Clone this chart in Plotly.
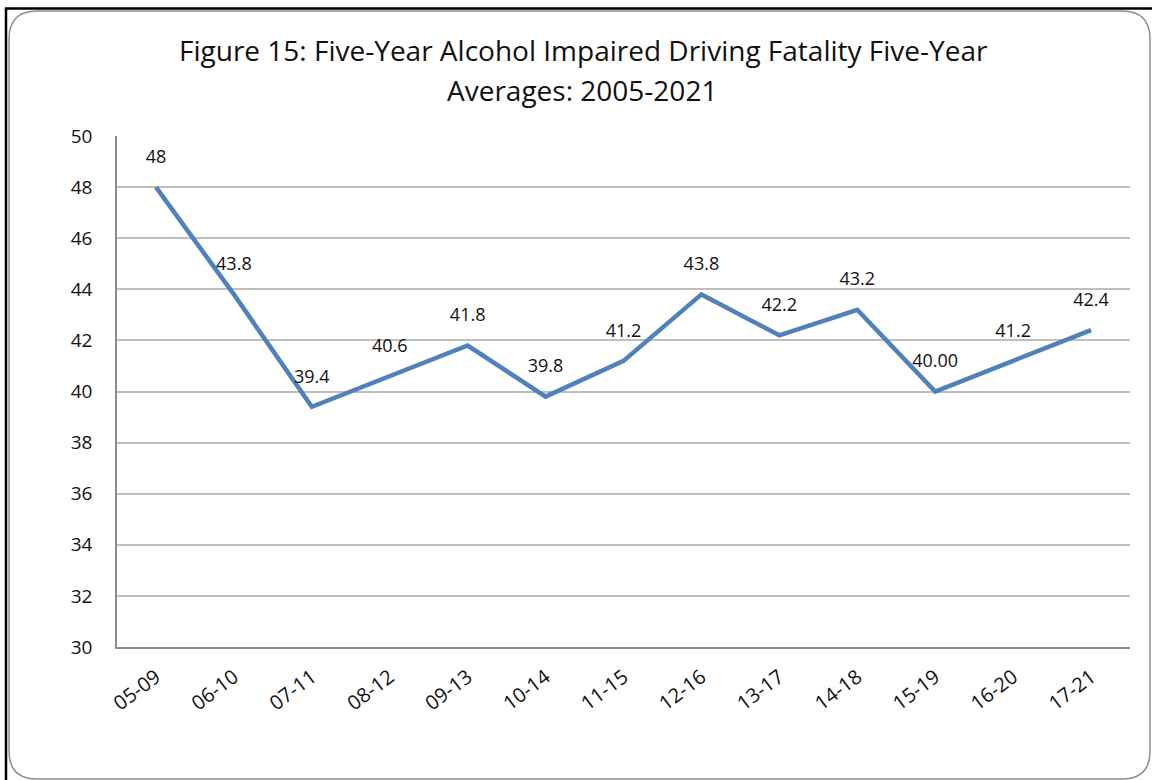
import plotly.graph_objects as go

periods = ["05-09", "06-10", "07-11", "08-12", "09-13", "10-14", "11-15",
           "12-16", "13-17", "14-18", "15-19", "16-20", "17-21"]
averages = [48, 43.8, 39.4, 40.6, 41.8, 39.8, 41.2, 43.8, 42.2, 43.2, 40.0, 41.2, 42.4]
labels = ["48", "43.8", "39.4", "40.6", "41.8", "39.8", "41.2", "43.8", "42.2",
          "43.2", "40.00", "41.2", "42.4"]

W, H = 1152, 780
ML, MR, MT, MB = 117, 22, 136, 133
PW, PH = W - ML - MR, H - MT - MB


def px_x(v):
    return (v - ML) / PW


def px_y(v):
    return (H - MB - v) / PH


FONT = "'Open Sans', Calibri, sans-serif"
TXT = "#111111"

fig = go.Figure()
fig.add_trace(go.Scatter(
    x=periods,
    y=averages,
    mode="lines+markers+text",
    line=dict(color="#4f81bd", width=4.5),
    marker=dict(size=30, color="rgba(0,0,0,0)"),
    text=labels,
    textposition="top center",
    textfont=dict(family=FONT, size=18, color=TXT),
    hoverinfo="x+y",
    showlegend=False,
    cliponaxis=False,
))

# rounded chart frame (grey) plus black left/top edge of the screenshot
l, t, r, b, rad = 9, 11, 1150, 779, 28
path = (
    f"M {px_x(l + rad)} {px_y(t)} L {px_x(r - rad)} {px_y(t)} "
    f"Q {px_x(r)} {px_y(t)} {px_x(r)} {px_y(t + rad)} "
    f"L {px_x(r)} {px_y(b - rad)} Q {px_x(r)} {px_y(b)} {px_x(r - rad)} {px_y(b)} "
    f"L {px_x(l + rad)} {px_y(b)} Q {px_x(l)} {px_y(b)} {px_x(l)} {px_y(b - rad)} "
    f"L {px_x(l)} {px_y(t + rad)} Q {px_x(l)} {px_y(t)} {px_x(l + rad)} {px_y(t)} Z"
)
shapes = [
    dict(type="path", xref="paper", yref="paper", path=path,
         line=dict(color="#8c8c8c", width=1.5), layer="below"),
    dict(type="line", xref="paper", yref="paper", x0=px_x(5), x1=px_x(W), y0=px_y(8.5), y1=px_y(8.5),
         line=dict(color="#000000", width=2.5)),
    dict(type="line", xref="paper", yref="paper", x0=px_x(6), x1=px_x(6), y0=px_y(8), y1=px_y(H),
         line=dict(color="#000000", width=2.5)),
]

annotations = [
    dict(text="Figure 15: Five-Year Alcohol Impaired Driving Fatality Five-Year",
         xref="paper", yref="paper", x=px_x(583), y=px_y(50), showarrow=False,
         font=dict(family=FONT, size=28, color=TXT), xanchor="center", yanchor="middle"),
    dict(text="Averages: 2005-2021",
         xref="paper", yref="paper", x=px_x(582), y=px_y(90), showarrow=False,
         font=dict(family=FONT, size=28, color=TXT), xanchor="center", yanchor="middle"),
]

fig.update_layout(
    width=W,
    height=H,
    margin=dict(l=ML, r=MR, t=MT, b=MB),
    paper_bgcolor="white",
    plot_bgcolor="white",
    shapes=shapes,
    annotations=annotations,
    font=dict(family=FONT, size=18, color=TXT),
    xaxis=dict(
        type="category",
        range=[-0.5, len(periods) - 0.5],
        tickangle=-37,
        showgrid=False,
        showline=True,
        linecolor="#8c8c8c",
        linewidth=1.5,
        ticks="",
        ticklabelstandoff=9,
        tickfont=dict(family=FONT, size=20, color=TXT),
        fixedrange=True,
    ),
    yaxis=dict(
        range=[30, 50],
        dtick=2,
        showgrid=True,
        gridcolor="#bfbfbf",
        gridwidth=1.5,
        showline=True,
        linecolor="#8c8c8c",
        linewidth=1.5,
        ticks="",
        ticklabelstandoff=19,
        tickfont=dict(family=FONT, size=19, color=TXT),
        zeroline=False,
        fixedrange=True,
    ),
)

fig.write_html("out.html", config={"displayModeBar": False},
               post_script="document.body.style.margin='0';")
